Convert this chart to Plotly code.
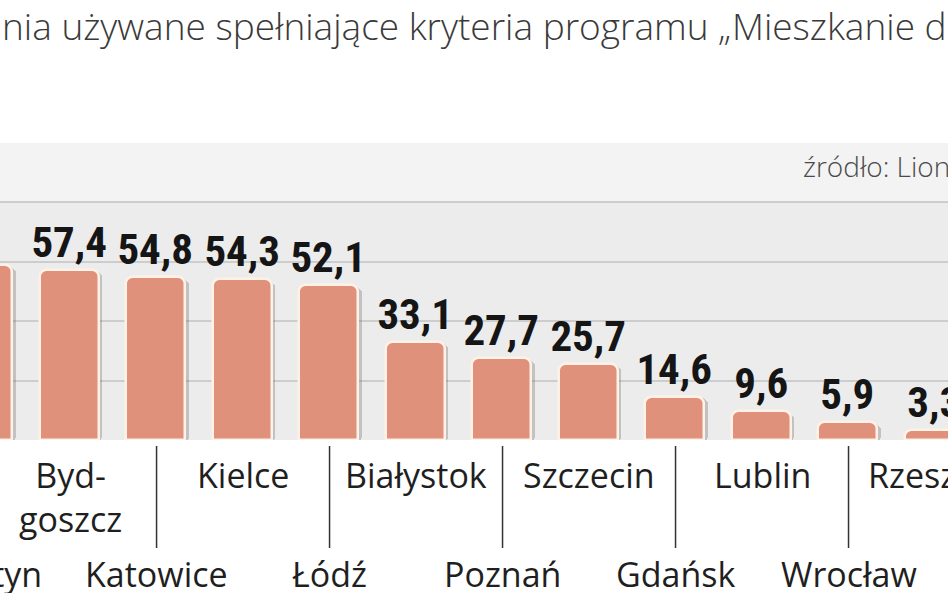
import plotly.graph_objects as go

# ---- data ----
cities = ["Olsztyn", "Bydgoszcz", "Katowice", "Kielce", "Łódź", "Białystok",
          "Poznań", "Szczecin", "Gdańsk", "Lublin", "Wrocław", "Rzeszów"]
city_labels = ["Olsztyn", "Byd-<br>goszcz", "Katowice", "Kielce", "Łódź", "Białystok",
               "Poznań", "Szczecin", "Gdańsk", "Lublin", "Wrocław", "Rzeszów"]
values = [58.9, 57.4, 54.8, 54.3, 52.1, 33.1, 27.7, 25.7, 14.6, 9.6, 5.9, 3.3]
grid_ticks = [20, 40, 60, 80]
title_text = "nia używane spełniające kryteria programu „Mieszkanie dla młodych”"
source_text = "źródło: Lion's Bank"

value_text = [f"{v:.1f}".replace(".", ",") for v in values]

BAR = "#df917c"
OUTLINE = "#fff1e6"

X_RANGE = [0.19, 11.15]
Y_RANGE = [0, 100]
W, H = 948, 593
M_T, M_B = 143, 153
PLOT_H = H - M_T - M_B


def xpaper(i):
    return (i - X_RANGE[0]) / (X_RANGE[1] - X_RANGE[0])


def ypaper(px):
    # pixel row (from top of figure) -> paper fraction
    return (H - M_B - px) / PLOT_H


fig = go.Figure()

# shadow
fig.add_trace(go.Bar(
    x=cities, y=[v + 0.3 for v in values], base=-0.9,
    width=0.70, offset=-0.33,
    marker=dict(color="rgba(95,95,95,0.30)", cornerradius=7, line=dict(width=0)),
    hoverinfo="skip", showlegend=False,
))
# main bars
fig.add_trace(go.Bar(
    x=cities, y=values,
    width=0.68, offset=-0.35,
    marker=dict(color=BAR, cornerradius=7, line=dict(color=OUTLINE, width=2.5)),
    text=value_text, textposition="outside", cliponaxis=False, constraintext="none",
    textfont=dict(family="Liberation Sans Narrow, Roboto Condensed, Roboto", size=43,
                  color="#151515", weight="bold"),
    showlegend=False,
))

annotations = []
shapes = []
# top lighter band
shapes.append(dict(type="rect", xref="paper", yref="y", x0=0, x1=1, y0=80, y1=100,
                   fillcolor="#f3f3f3", line=dict(width=0), layer="below"))

label_font = dict(family="Open Sans, Noto Sans, sans-serif", size=34, color="#1f1f1f")
for i, (c, lab) in enumerate(zip(cities, city_labels)):
    if i % 2 == 1:
        annotations.append(dict(x=xpaper(i), y=ypaper(450), xref="paper", yref="paper",
                                text=lab, showarrow=False, xanchor="center", yanchor="top",
                                font=label_font, align="center"))
    else:
        annotations.append(dict(x=xpaper(i), y=ypaper(574), xref="paper", yref="paper",
                                text=lab, showarrow=False, xanchor="center",
                                yanchor="middle", font=label_font))
        shapes.append(dict(type="line", xref="x", yref="paper", x0=c, x1=c,
                           y0=ypaper(446), y1=ypaper(548),
                           line=dict(color="#333333", width=1.5)))

annotations.append(dict(x=0, y=ypaper(26), xref="paper", yref="paper", text=title_text,
                        showarrow=False, xanchor="left", yanchor="middle",
                        font=dict(family="Open Sans", size=37, color="#3a3a3a", weight=300)))
annotations.append(dict(x=0.845, y=ypaper(166), xref="paper", yref="paper", text=source_text,
                        showarrow=False, xanchor="left", yanchor="middle",
                        font=dict(family="Open Sans", size=28, color="#4a4a4a", weight=300)))

fig.update_layout(
    width=W, height=H,
    margin=dict(l=0, r=0, t=M_T, b=M_B, pad=0),
    paper_bgcolor="white", plot_bgcolor="#ececec",
    barmode="overlay",
    bargap=0,
    annotations=annotations, shapes=shapes,
    xaxis=dict(type="category", range=X_RANGE, showticklabels=False,
               showgrid=False, zeroline=False, showline=False, ticks=""),
    yaxis=dict(range=Y_RANGE, tickvals=grid_ticks, showticklabels=False,
               gridcolor="#cdcdcd", gridwidth=1.5, zeroline=False, showline=False),
)

fig.write_html("out.html", config={"displayModeBar": False},
               post_script="document.body.style.margin='0';")
